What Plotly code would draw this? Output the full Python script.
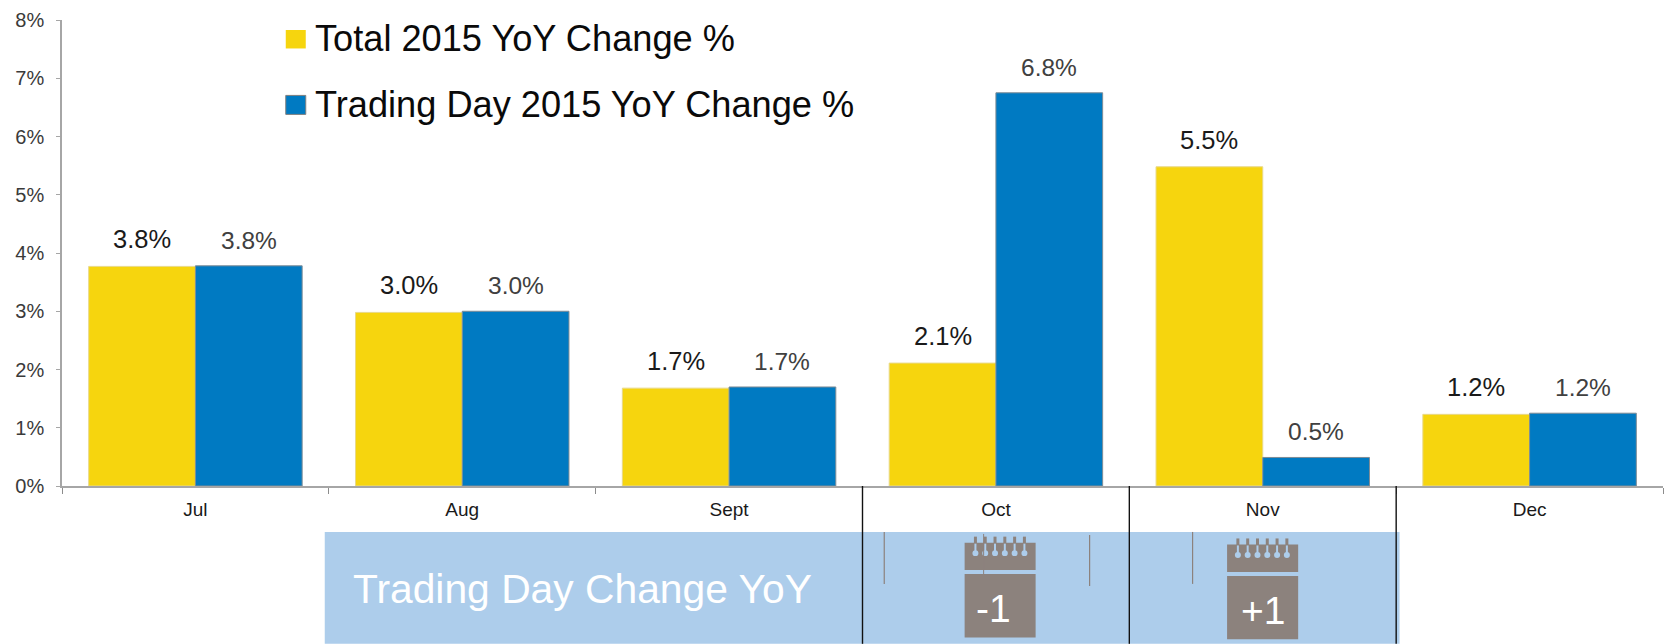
import plotly.graph_objects as go

months = ["Jul", "Aug", "Sept", "Oct", "Nov", "Dec"]
total_yoy = [3.77, 2.98, 1.68, 2.11, 5.48, 1.23]
trading_yoy = [3.78, 3.0, 1.7, 6.75, 0.49, 1.25]
total_labels = ["3.8%", "3.0%", "1.7%", "2.1%", "5.5%", "1.2%"]
trading_labels = ["3.8%", "3.0%", "1.7%", "6.8%", "0.5%", "1.2%"]
y_ticks = [0, 1, 2, 3, 4, 5, 6, 7, 8]
y_tick_labels = ["0%", "1%", "2%", "3%", "4%", "5%", "6%", "7%", "8%"]
total_name = "Total 2015 YoY Change %"
trading_name = "Trading Day 2015 YoY Change %"
band_title = "Trading Day Change YoY"
oct_badge = "-1"
nov_badge = "+1"

W, H = 1667, 644
L, R, T, B = 62.2, 1663.5, 19.5, 486.0
YEL, BLU, BAND, CAL = "#F6D50E", "#007AC2", "#ADCDEB", "#8C827D"
FONT = "Liberation Sans"


def px(x):
    return (x - L) / (R - L)


def py(y):
    return (B - y) / (B - T)


shapes, annotations = [], []


def rect(x0, y0, x1, y1, color):
    shapes.append(dict(type="rect", xref="paper", yref="paper", x0=px(x0), x1=px(x1),
                       y0=py(y0), y1=py(y1), fillcolor=color, line_width=0, layer="above"))


def vline(x, y0, y1, color="#8C827D", width=1.2):
    shapes.append(dict(type="line", xref="paper", yref="paper", x0=px(x), x1=px(x),
                       y0=py(y0), y1=py(y1), line=dict(color=color, width=width), layer="above"))


def text(x, y, s, size, color, xanchor="left"):
    annotations.append(dict(xref="paper", yref="paper", x=px(x), y=py(y), text=s, showarrow=False,
                            xanchor=xanchor, yanchor="middle", align="left",
                            font=dict(family=FONT, size=size, color=color)))


# Band under the axis
shapes.append(dict(type="rect", xref="paper", yref="paper", x0=px(325), x1=px(1400),
                   y0=py(532), y1=py(H), fillcolor=BAND, line_width=0, layer="above"))
# Black separators, on the category boundaries
for boundary in (2.5, 3.5, 4.5):
    shapes.append(dict(type="line", xref="x", yref="paper", x0=boundary, x1=boundary,
                       y0=0, y1=py(H), line=dict(color="#111111", width=1.4), layer="above"))


def calendar(x0, x1, top):
    rect(x0, top, x1, top + 27.5, CAL)
    rect(x0, top + 31.5, x1, top + 95, CAL)
    for i in range(6):
        cx = x0 + 10.8 + i * 9.8
        rect(cx - 1.5, top - 6, cx + 1.5, top + 1, CAL)
        rect(cx - 1, top + 1, cx + 1, top + 10, BAND)
        shapes.append(dict(type="circle", xref="paper", yref="paper", layer="above",
                           x0=px(cx - 3), x1=px(cx + 3), y0=py(top + 7.5), y1=py(top + 13.5),
                           fillcolor=BAND, line_width=0))


calendar(965, 1036, 542.7)
calendar(1227.5, 1298.6, 544.5)
vline(884.6, 532, 584)
vline(1090, 535, 586)
vline(1193, 532, 584)
vline(984, 534, 575, width=1)

text(351, 589, band_title, 40.8, "#FFFFFF")
text(994, 609, oct_badge, 39, "#FFFFFF", "center")
text(1263, 611, nov_badge, 39, "#FFFFFF", "center")

# Legend key
rect(286, 29.5, 306, 48, YEL)
rect(286, 95, 306, 114, BLU)
shapes.append(dict(type="rect", xref="paper", yref="paper", x0=px(286), x1=px(306), y0=py(95), y1=py(114),
                   line=dict(color="#7F7F7F", width=1), layer="above"))
text(313, 38, total_name, 36.2, "#0A0A0A")
text(313, 104, trading_name, 36.2, "#0A0A0A")

# Value labels
for i in range(len(months)):
    annotations.append(dict(x=i - 0.2, y=total_yoy[i], xref="x", yref="y", text=total_labels[i], showarrow=False,
                            yanchor="bottom", yshift=11, font=dict(family=FONT, size=25.5, color="#1A1A1A")))
    annotations.append(dict(x=i + 0.2, y=trading_yoy[i], xref="x", yref="y", text=trading_labels[i], showarrow=False,
                            yanchor="bottom", yshift=10, font=dict(family=FONT, size=24.5, color="#404040")))

fig = go.Figure()
fig.add_bar(name=total_name, x=months, y=total_yoy, marker=dict(color=YEL, line=dict(color="#E8D98A", width=1)))
fig.add_bar(name=trading_name, x=months, y=trading_yoy, marker=dict(color=BLU, line=dict(color="#7F8C95", width=1)))

fig.update_layout(
    width=W, height=H, showlegend=False, barmode="group", bargap=0.2, bargroupgap=0,
    margin=dict(l=L, r=W - R, t=T, b=H - B, pad=0),
    paper_bgcolor="#FFFFFF", plot_bgcolor="#FFFFFF",
    font=dict(family=FONT, color="#1A1A1A"),
    shapes=shapes, annotations=annotations,
)
fig.update_xaxes(type="category", categoryorder="array", categoryarray=months, range=[-0.5, 5.5],
                 showgrid=False, showline=True, linecolor="#A6A6A6", linewidth=1.5,
                 ticks="outside", tickson="boundaries", ticklen=6, tickcolor="#8C8C8C", tickwidth=1,
                 tickfont=dict(family=FONT, size=19, color="#1A1A1A"), ticklabelstandoff=5)
fig.update_yaxes(range=[0, 8], tickvals=y_ticks, ticktext=y_tick_labels, showgrid=False, zeroline=False,
                 showline=True, linecolor="#A6A6A6", linewidth=1.5,
                 ticks="outside", ticklen=4, tickcolor="#A6A6A6", tickwidth=1,
                 tickfont=dict(family=FONT, size=20, color="#3A3A3A"), ticklabelstandoff=8)

fig.write_html("out.html", config={"displayModeBar": False},
               post_script="document.body.style.margin='0';document.body.style.overflow='hidden';")
